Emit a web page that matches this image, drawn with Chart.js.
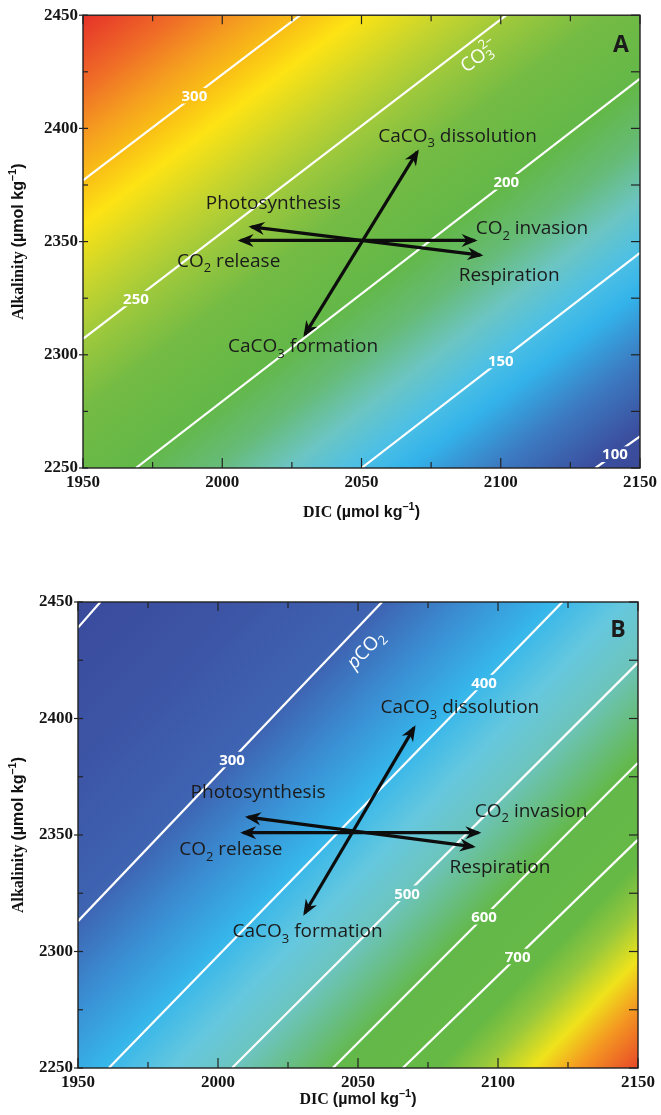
<!DOCTYPE html>
<html>
<head>
<meta charset="utf-8">
<script src="https://cdn.jsdelivr.net/npm/chart.js@4.4.1/dist/chart.umd.min.js"></script>
<style>
  html, body { margin: 0; padding: 0; background: #fff; }
  #wrap { position: relative; width: 661px; height: 1115px; }
  canvas { position: absolute; left: 0; }
</style>
</head>
<body>
<div id="wrap">
  <canvas id="chartA" width="661" height="528" style="top:0"></canvas>
  <canvas id="chartB" width="661" height="540" style="top:575px"></canvas>
</div>
<script>
// axis values
const dicTicks = [1950, 2000, 2050, 2100, 2150];
const dicMinor = [1975, 2025, 2075, 2125];
const alkTicks = [2250, 2300, 2350, 2400, 2450];
const alkMinor = [2275, 2325, 2375, 2425];

// panel A: carbonate ion contours, [DIC, Alk] where each line enters / leaves the plot
const co3Levels = [300, 250, 200, 150, 100];
const co3Start = [[1950, 2377], [1950, 2307], [1969, 2250], [2050, 2250], [2134, 2250]];
const co3End = [[2028, 2450], [2102, 2450], [2150, 2422], [2150, 2345], [2150, 2264]];
const co3LabelDic = [1990, 1969, 2102, 2100, 2141];

// panel B: pCO2 contours
const pco2Levels = [200, 300, 400, 500, 600, 700];
const pco2Start = [[1950, 2439], [1950, 2313], [1961, 2250], [2005, 2250], [2041, 2250], [2066, 2250]];
const pco2End = [[1958, 2450], [2058.6, 2450], [2123, 2450], [2150, 2424], [2150, 2381], [2150, 2348]];
const pco2LabelDic = [null, 2005, 2095, 2067.5, 2095, 2107];

// process vectors (both ends get a head): CO2 release/invasion, photosynthesis/respiration, CaCO3
const processNames = ['Photosynthesis', 'CO_2 release', 'CaCO_3 dissolution', 'CO_2 invasion', 'Respiration', 'CaCO_3 formation'];
const vectorsA = [[[2006.6, 2350.5], [2090.6, 2350.5]], [[2010.5, 2356.5], [2092.7, 2344]], [[2029.7, 2309], [2070, 2389.6]]];
const vectorsB = [[[2009, 2351], [2093, 2351]], [[2010.7, 2357.7], [2091, 2345]], [[2031, 2316.5], [2070, 2396]]];

// colour ramps (level -> colour) for the background field
const co3ColorLevels = [353, 330, 312, 300, 286, 265, 248, 228, 200, 182, 166, 152, 140, 122, 102, 88];
const co3Colors = ['#e5302a', '#ef6b27', '#f5a01f', '#f9be15', '#fde314', '#c5d42e', '#9cc83c', '#74bb44',
                   '#63b848', '#66bb78', '#6cc5c2', '#4ec0e4', '#33b3ea', '#3c7cc2', '#3b4f9f', '#3a4897'];
const pco2ColorLevels = [188, 250, 300, 350, 395, 450, 500, 550, 600, 740, 800, 870, 930, 1040];
const pco2Colors = ['#3a4a9b', '#3d55a6', '#3e64b2', '#3a90d4', '#36b6ea', '#66c8de', '#6cc4bc', '#68be84',
                    '#63b84a', '#66b944', '#97c83c', '#efe31b', '#f49a21', '#e5302a'];

const tickFont = { family: "'Liberation Serif', 'Times New Roman', serif", size: 17, weight: 'bold' };
const SERIF_B = "bold 16px 'Liberation Serif', serif";
const SANS_B = "bold 16px 'Liberation Sans', Arial, sans-serif";
const SANS_B_SUP = "bold 11px 'Liberation Sans', Arial, sans-serif";
const LBL = "19px 'Open Sans', sans-serif";
const LBL_SUB = "13px 'Open Sans', sans-serif";

const panels = {
  chartA: {
    levels: co3Levels, starts: co3Start, ends: co3End, labelDic: co3LabelDic,
    colorLevels: co3ColorLevels, colors: co3Colors, vectors: vectorsA,
    textAt: [[2018.3, 2367], [2002.3, 2341.3], [2084.5, 2396.5], [2111.2, 2355.6], [2103, 2334.8], [2029, 2303.5]],
    side: { idx: 1, at: [2092.3, 2431.7],
            parts: [{ t: 'CO', f: LBL }, { t: '3', f: LBL_SUB, dy: 6, stay: true }, { t: '2–', f: LBL_SUB, dy: -7 }] },
    letter: 'A', letterOff: [-19, 30],
    padding: { left: 0, top: 8, right: 16, bottom: 0 }, yWidth: 83, xHeight: 60, xTitleOff: 45
  },
  chartB: {
    levels: pco2Levels, starts: pco2Start, ends: pco2End, labelDic: pco2LabelDic,
    colorLevels: pco2ColorLevels, colors: pco2Colors, vectors: vectorsB,
    textAt: [[2014.3, 2368], [2004.6, 2343.6], [2086.4, 2404.5], [2111.8, 2360], [2100.7, 2335.8], [2032, 2308.4]],
    side: { idx: 1, at: [2052.9, 2429.4],
            parts: [{ t: 'p', f: "italic " + LBL }, { t: 'CO', f: LBL }, { t: '2', f: LBL_SUB, dy: 6 }] },
    letter: 'B', letterOff: [-20, 28],
    padding: { left: 0, top: 27, right: 23, bottom: 0 }, yWidth: 78, xHeight: 47, xTitleOff: 32
  }
};

function subParts(str) {
  const parts = [];
  const re = /_(.)/g;
  let last = 0, m;
  while ((m = re.exec(str))) {
    if (m.index > last) parts.push({ t: str.slice(last, m.index), f: LBL });
    parts.push({ t: m[1], f: LBL_SUB, dy: 7 });
    last = m.index + 2;
  }
  if (last < str.length) parts.push({ t: str.slice(last), f: LBL });
  return parts;
}

// draws a run of text pieces centred on (x, y); pieces with stay:true don't advance the pen
function drawRich(ctx, parts, x, y) {
  let w = 0;
  parts.forEach(p => { ctx.font = p.f; p.w = ctx.measureText(p.t).width; if (!p.stay) w += p.w; });
  let cx = x - w / 2;
  ctx.textAlign = 'left';
  ctx.textBaseline = 'middle';
  parts.forEach(p => {
    ctx.font = p.f;
    ctx.fillText(p.t, cx, y + (p.dy || 0));
    if (!p.stay) cx += p.w;
  });
  return w;
}

function toPx(chart, q) {
  return [chart.scales.x.getPixelForValue(q[0]), chart.scales.y.getPixelForValue(q[1])];
}

// linear gradient perpendicular to the contours, stops placed where each level falls
function makeGradient(chart, p) {
  const a = chart.chartArea;
  let dx = 0, dy = 0;
  p.starts.forEach((s, i) => {
    const A = toPx(chart, s), B = toPx(chart, p.ends[i]);
    const L = Math.hypot(B[0] - A[0], B[1] - A[1]);
    dx += (B[0] - A[0]) / L; dy += (B[1] - A[1]) / L;
  });
  const L = Math.hypot(dx, dy);
  const n = [-dy / L, dx / L];
  const pairs = p.levels.map((lv, i) => {
    const A = toPx(chart, p.starts[i]), B = toPx(chart, p.ends[i]);
    return [lv, ((A[0] + B[0]) / 2) * n[0] + ((A[1] + B[1]) / 2) * n[1]];
  }).sort((u, v) => u[0] - v[0]);
  const dOf = lv => {
    let i = 0;
    while (i < pairs.length - 2 && lv > pairs[i + 1][0]) i++;
    const [l0, d0] = pairs[i], [l1, d1] = pairs[i + 1];
    return d0 + (lv - l0) * (d1 - d0) / (l1 - l0);
  };
  const ds = p.colorLevels.map(dOf);
  const corners = [[a.left, a.top], [a.right, a.top], [a.left, a.bottom], [a.right, a.bottom]].map(c => c[0] * n[0] + c[1] * n[1]);
  const dmin = Math.min(...ds, ...corners), dmax = Math.max(...ds, ...corners);
  const g = chart.ctx.createLinearGradient(n[0] * dmin, n[1] * dmin, n[0] * dmax, n[1] * dmax);
  ds.forEach((d, i) => g.addColorStop((d - dmin) / (dmax - dmin), p.colors[i]));
  return g;
}

function arrowHead(ctx, x0, y0, x1, y1) {
  const ang = Math.atan2(y1 - y0, x1 - x0);
  ctx.save();
  ctx.translate(x1, y1);
  ctx.rotate(ang);
  ctx.beginPath();
  ctx.moveTo(3, 0);
  ctx.lineTo(-13, -6.5);
  ctx.lineTo(-8, 0);
  ctx.lineTo(-13, 6.5);
  ctx.closePath();
  ctx.fill();
  ctx.restore();
}

const panelPlugin = {
  id: 'panel',
  beforeDatasetsDraw(chart) {
    const p = panels[chart.canvas.id];
    const a = chart.chartArea, ctx = chart.ctx;
    chart.$bg = makeGradient(chart, p);
    ctx.save();
    ctx.fillStyle = chart.$bg;
    ctx.fillRect(a.left, a.top, a.width, a.height);
    ctx.restore();
  },
  afterDatasetsDraw(chart) {
    const p = panels[chart.canvas.id];
    const a = chart.chartArea, ctx = chart.ctx;
    const xs = chart.scales.x, ys = chart.scales.y;
    ctx.save();

    // contour labels, with a gap cut into the line
    ctx.font = "bold 15px 'Open Sans', sans-serif";
    p.levels.forEach((lv, i) => {
      const dic = p.labelDic[i];
      if (dic == null) return;
      const s = p.starts[i], e = p.ends[i];
      const alk = s[1] + (dic - s[0]) * (e[1] - s[1]) / (e[0] - s[0]);
      const [x, y] = toPx(chart, [dic, alk]);
      const w = ctx.measureText(String(lv)).width;
      ctx.save();
      ctx.beginPath();
      ctx.rect(x - w / 2 - 2, y - 8, w + 4, 16);
      ctx.clip();
      ctx.fillStyle = chart.$bg;
      ctx.fillRect(x - w / 2 - 2, y - 8, w + 4, 16);
      ctx.restore();
      ctx.fillStyle = '#fff';
      ctx.textAlign = 'center';
      ctx.textBaseline = 'middle';
      ctx.fillText(String(lv), x, y + 1);
    });

    // quantity name written along a contour
    const sd = p.side;
    const A = toPx(chart, p.starts[sd.idx]), B = toPx(chart, p.ends[sd.idx]);
    const [sx, sy] = toPx(chart, sd.at);
    ctx.save();
    ctx.translate(sx, sy);
    ctx.rotate(Math.atan2(B[1] - A[1], B[0] - A[0]));
    ctx.fillStyle = '#fff';
    drawRich(ctx, sd.parts, 0, 0);
    ctx.restore();

    // arrow heads on both ends of each process vector
    ctx.fillStyle = '#0d0d0d';
    p.vectors.forEach((v, i) => {
      const pts = chart.getDatasetMeta(i).data;
      arrowHead(ctx, pts[0].x, pts[0].y, pts[1].x, pts[1].y);
      arrowHead(ctx, pts[1].x, pts[1].y, pts[0].x, pts[0].y);
    });

    // process names
    ctx.fillStyle = '#1b1b1b';
    processNames.forEach((name, i) => {
      const [x, y] = toPx(chart, p.textAt[i]);
      drawRich(ctx, subParts(name), x, y);
    });

    // panel letter
    ctx.font = "bold 23px 'Open Sans', sans-serif";
    ctx.textAlign = 'center';
    ctx.textBaseline = 'middle';
    ctx.fillText(p.letter, a.right + p.letterOff[0], a.top + p.letterOff[1]);

    // frame and inward ticks
    ctx.strokeStyle = '#222';
    ctx.lineWidth = 1.4;
    ctx.strokeRect(a.left, a.top, a.width, a.height);
    const seg = (x0, y0, x1, y1) => { ctx.beginPath(); ctx.moveTo(x0, y0); ctx.lineTo(x1, y1); ctx.stroke(); };
    ctx.lineWidth = 1.2;
    dicTicks.concat(dicMinor).forEach(v => {
      const x = xs.getPixelForValue(v), major = dicTicks.includes(v);
      seg(x, a.bottom, x, a.bottom - (major ? 10 : 6));
      seg(x, a.top, x, a.top + (major ? 9 : 6));
    });
    alkTicks.concat(alkMinor).forEach(v => {
      const y = ys.getPixelForValue(v), major = alkTicks.includes(v);
      seg(a.left - (major ? 4 : 0), y, a.left + 5, y);
      seg(a.right - 9, y, a.right, y);
    });

    // axis titles
    ctx.fillStyle = '#111';
    const unit = () => [{ t: '(µmol kg', f: SANS_B }, { t: '–1', f: SANS_B_SUP, dy: -6 }, { t: ')', f: SANS_B }];
    drawRich(ctx, [{ t: 'DIC ', f: SERIF_B }].concat(unit()), (a.left + a.right) / 2, a.bottom + p.xTitleOff);
    ctx.save();
    ctx.translate(19, (a.top + a.bottom) / 2);
    ctx.rotate(-Math.PI / 2);
    drawRich(ctx, [{ t: 'Alkalinity ', f: SERIF_B }].concat(unit()), 0, 0);
    ctx.restore();

    ctx.restore();
  }
};

function buildChart(id) {
  const p = panels[id];
  const datasets = [];
  p.vectors.forEach(v => datasets.push({
    data: v.map(q => ({ x: q[0], y: q[1] })),
    showLine: true, borderColor: '#0d0d0d', borderWidth: 3.2, pointRadius: 0, order: 0
  }));
  p.levels.forEach((lv, i) => datasets.push({
    label: String(lv),
    data: [{ x: p.starts[i][0], y: p.starts[i][1] }, { x: p.ends[i][0], y: p.ends[i][1] }],
    showLine: true, borderColor: '#fff', borderWidth: 2.2, pointRadius: 0, order: 1
  }));

  return new Chart(document.getElementById(id), {
    type: 'scatter',
    data: { datasets },
    options: {
      responsive: false,
      animation: false,
      events: [],
      layout: { padding: p.padding },
      plugins: { legend: { display: false }, tooltip: { enabled: false } },
      scales: {
        x: {
          min: 1950, max: 2150,
          afterBuildTicks: s => { s.ticks = dicTicks.map(v => ({ value: v })); },
          afterFit: s => { s.height = p.xHeight; },
          grid: { display: false, drawTicks: false },
          border: { display: false },
          ticks: { font: tickFont, color: '#151515', padding: 4, maxRotation: 0, autoSkip: false, callback: v => String(v) }
        },
        y: {
          min: 2250, max: 2450,
          afterBuildTicks: s => { s.ticks = alkTicks.map(v => ({ value: v })); },
          afterFit: s => { s.width = p.yWidth; },
          grid: { display: false, drawTicks: false },
          border: { display: false },
          ticks: { font: tickFont, color: '#151515', padding: 5, autoSkip: false, callback: v => String(v) }
        }
      }
    },
    plugins: [panelPlugin]
  });
}

buildChart('chartA');
buildChart('chartB');
</script>
</body>
</html>
